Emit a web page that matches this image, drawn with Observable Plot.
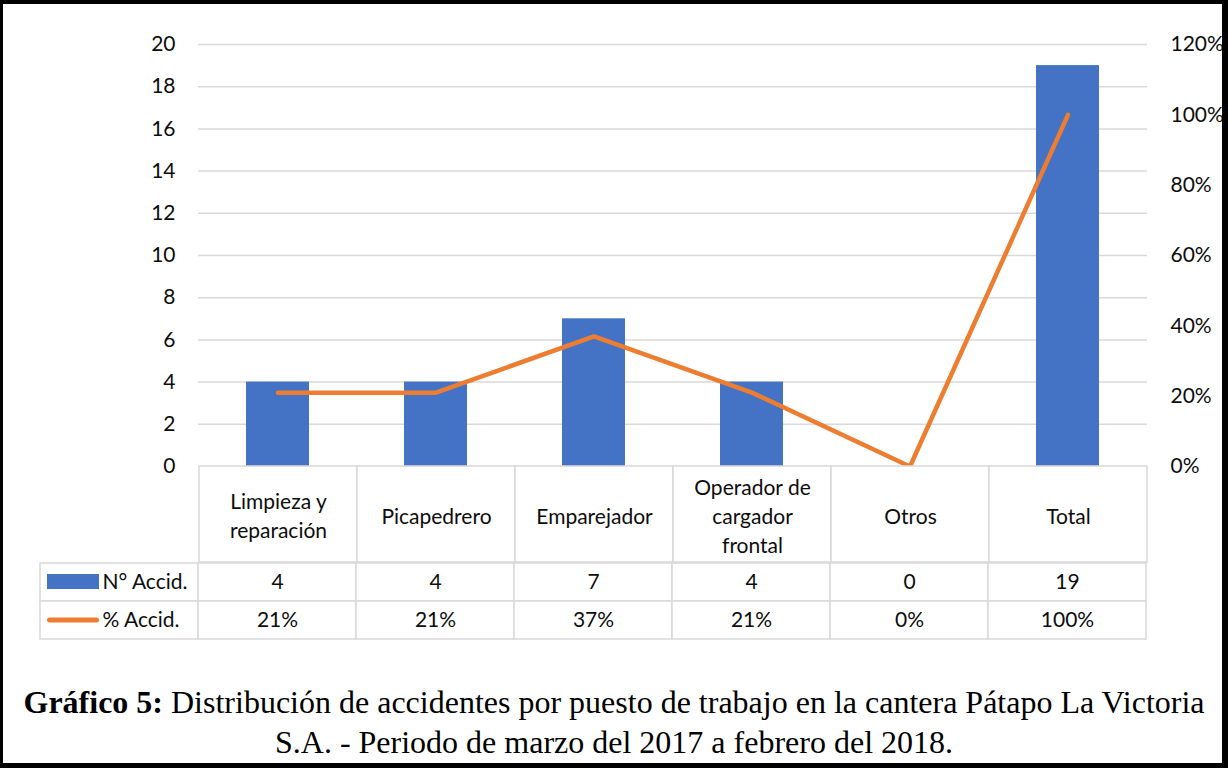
<!DOCTYPE html>
<html>
<head>
<meta charset="utf-8">
<script src="https://cdn.jsdelivr.net/npm/d3@7"></script>
<script src="https://cdn.jsdelivr.net/npm/@observablehq/plot@0.6"></script>
<style>
  html, body { margin: 0; padding: 0; background: #fff; }
  #page { position: relative; width: 1228px; height: 768px; overflow: hidden; background: #fff; }
  .layer { position: absolute; left: 0; }
  .layer svg { display: block; overflow: visible; }
  #frame { position: absolute; left: 0; top: 0; width: 1228px; height: 768px; box-sizing: border-box;
           border-style: solid; border-color: #000; border-width: 4px 6px 5px 3px; pointer-events: none; }
  #caption { position: absolute; left: 0; top: 682px; width: 1228px; text-align: center;
             font-family: "Liberation Serif", "Times New Roman", serif; font-size: 32px; line-height: 40px;
             color: #000; white-space: nowrap; }
</style>
</head>
<body>
<div id="page">
  <div id="main" class="layer" style="top:0"></div>
  <div id="head" class="layer" style="top:466px"></div>
  <div id="rows" class="layer" style="top:562px"></div>
  <div id="caption"><b>Gráfico 5:</b> Distribución de accidentes por puesto de trabajo en la cantera Pátapo La Victoria<br>S.A. - Periodo de marzo del 2017 a febrero del 2018.</div>
  <div id="frame"></div>
</div>
<script>
// ---- data ----
const categories = ["Limpieza y reparación", "Picapedrero", "Emparejador", "Operador de cargador frontal", "Otros", "Total"];
const categoryLabels = ["Limpieza y\nreparación", "Picapedrero", "Emparejador", "Operador de\ncargador\nfrontal", "Otros", "Total"];
const nAccid = [4, 4, 7, 4, 0, 19];
const pctAccid = [0.21, 0.21, 0.37, 0.21, 0.00, 1.00];
const leftTicks = [0, 2, 4, 6, 8, 10, 12, 14, 16, 18, 20];
const rightTicks = [0, 0.2, 0.4, 0.6, 0.8, 1.0, 1.2];
const seriesNames = ["N° Accid.", "% Accid."];

// ---- styling ----
const FONT = "Lato, 'Open Sans', sans-serif";
const FS = 21;
const BLUE = "#4472C4";
const ORANGE = "#ED7D31";
const GRID = "#d9d9d9";
const TXT = "#0d0d0d";
const W = 1228;
const ML = 198, MR = 81;
const leftMax = 20, rightMax = 1.2;
const toLeft = p => p * leftMax / rightMax;

const rowsData = categories.map((c, i) => ({cat: c, label: categoryLabels[i], n: nAccid[i], pct: pctAccid[i]}));

// ---- main chart ----
const main = Plot.plot({
  width: W, height: 467,
  marginTop: 44, marginBottom: 1, marginLeft: ML, marginRight: MR,
  style: {fontFamily: FONT, fontSize: FS + "px", color: TXT, background: "transparent"},
  x: {domain: categories, paddingInner: 0.6, paddingOuter: 0.3, axis: null},
  y: {domain: [0, leftMax], axis: null},
  marks: [
    Plot.gridY(leftTicks.filter(t => t > 0), {stroke: GRID, strokeOpacity: 1, strokeWidth: 1.5}),
    Plot.axisY(leftTicks, {anchor: "left", tickSize: 0, tickPadding: 23, label: null, fontSize: FS, fill: TXT}),
    Plot.axisY(rightTicks.map(toLeft), {anchor: "right", tickSize: 0, tickPadding: 23, label: null, fontSize: FS, fill: TXT,
      tickFormat: d => Math.round(d * rightMax / leftMax * 100) + "%"}),
    Plot.barY(rowsData, {x: "cat", y: "n", fill: BLUE}),
    Plot.line(rowsData, {x: "cat", y: d => toLeft(d.pct), stroke: ORANGE, strokeWidth: 4.5,
      strokeLinecap: "round", strokeLinejoin: "round"})
  ]
});
document.getElementById("main").appendChild(main);

// ---- table header row (category labels) ----
const head = Plot.plot({
  width: W, height: 97,
  marginTop: 0, marginBottom: 1, marginLeft: ML, marginRight: MR,
  style: {fontFamily: FONT, fontSize: FS + "px", color: TXT, background: "transparent"},
  x: {domain: categories, padding: 0, axis: null},
  marks: [
    Plot.cell(rowsData, {x: "cat", fill: "white", stroke: GRID, strokeWidth: 1.5}),
    Plot.text(rowsData, {x: "cat", text: "label", fontSize: FS, fill: TXT, lineHeight: 1.38})
  ]
});
document.getElementById("head").appendChild(head);

// ---- table value rows with legend column ----
const LEG = "legend";
const cellsData = [];
rowsData.forEach(d => {
  cellsData.push({cat: d.cat, row: seriesNames[0], text: String(d.n)});
  cellsData.push({cat: d.cat, row: seriesNames[1], text: d3.format(".0%")(d.pct)});
});
const legendData = seriesNames.map(s => ({cat: LEG, row: s, text: s}));

const rows = Plot.plot({
  width: W, height: 78,
  marginTop: 0, marginBottom: 1, marginLeft: 39, marginRight: MR,
  style: {fontFamily: FONT, fontSize: FS + "px", color: TXT, background: "transparent"},
  x: {domain: [LEG, ...categories], padding: 0, axis: null},
  y: {domain: seriesNames, padding: 0, axis: null},
  marks: [
    Plot.cell([...legendData, ...cellsData], {x: "cat", y: "row", fill: "white", stroke: GRID, strokeWidth: 1.5}),
    Plot.text(cellsData, {x: "cat", y: "row", text: "text", fontSize: FS, fill: TXT}),
    Plot.cell(legendData.filter(d => d.row === seriesNames[0]), {x: "cat", y: "row", fill: BLUE,
      insetLeft: 7, insetRight: 99, insetTop: 11, insetBottom: 12}),
    Plot.cell(legendData.filter(d => d.row === seriesNames[1]), {x: "cat", y: "row", fill: ORANGE, rx: 2.5,
      insetLeft: 7, insetRight: 99, insetTop: 16.5, insetBottom: 16.5}),
    Plot.text(legendData, {x: "cat", y: "row", text: "text", fontSize: FS, fill: TXT, textAnchor: "start", dx: -17})
  ]
});
document.getElementById("rows").appendChild(rows);
</script>
</body>
</html>
